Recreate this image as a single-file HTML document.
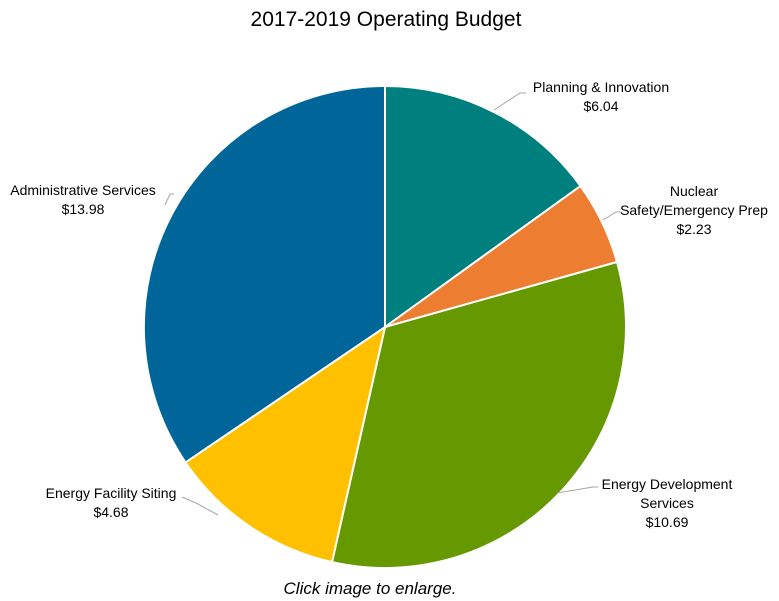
<!DOCTYPE html>
<html><head><meta charset="utf-8"><style>
body{margin:0;background:#fff}
svg{display:block;font-family:"Liberation Sans",sans-serif}
</style></head><body>
<svg width="779" height="601" viewBox="0 0 779 601">
<rect width="779" height="601" fill="#fff"/>
<text x="386" y="26" font-size="21" text-anchor="middle" fill="#000">2017-2019 Operating Budget</text>
<g stroke="#fff" stroke-width="2">
<path d="M385,327 L385,86 A241,241 0 0 1 580.5,186.0 Z" fill="#007F7F"/>
<path d="M385,327 L580.5,186.0 A241,241 0 0 1 617.0,262.0 Z" fill="#ED7D31"/>
<path d="M385,327 L617.0,262.0 A241,241 0 0 1 332.0,562.1 Z" fill="#669900"/>
<path d="M385,327 L332.0,562.1 A241,241 0 0 1 185.5,462.4 Z" fill="#FFC000"/>
<path d="M385,327 L185.5,462.4 A241,241 0 0 1 385,86 Z" fill="#006699"/>
</g>
<g stroke="#a6a6a6" stroke-width="1" fill="none">
<polyline points="494,110 520,93 526,93"/>
<polyline points="603,220 616,212 622,212"/>
<polyline points="557,493 593,487 598,487"/>
<polyline points="218,515 196,503 182,497"/>
<polyline points="165,205 170,194 174,194"/>
</g>
<g font-size="14" fill="#000" text-anchor="middle">
<text x="601" y="92">Planning &amp; Innovation</text>
<text x="601" y="111">$6.04</text>
<text x="694" y="196">Nuclear</text>
<text x="694" y="215">Safety/Emergency Prep</text>
<text x="694" y="234">$2.23</text>
<text x="667" y="489">Energy Development</text>
<text x="667" y="508">Services</text>
<text x="667" y="527">$10.69</text>
<text x="111" y="498">Energy Facility Siting</text>
<text x="111" y="517">$4.68</text>
<text x="83" y="195">Administrative Services</text>
<text x="83" y="214">$13.98</text>
</g>
<text x="370" y="594" font-size="17" font-style="italic" text-anchor="middle" fill="#000">Click image to enlarge.</text>
</svg>
</body></html>
